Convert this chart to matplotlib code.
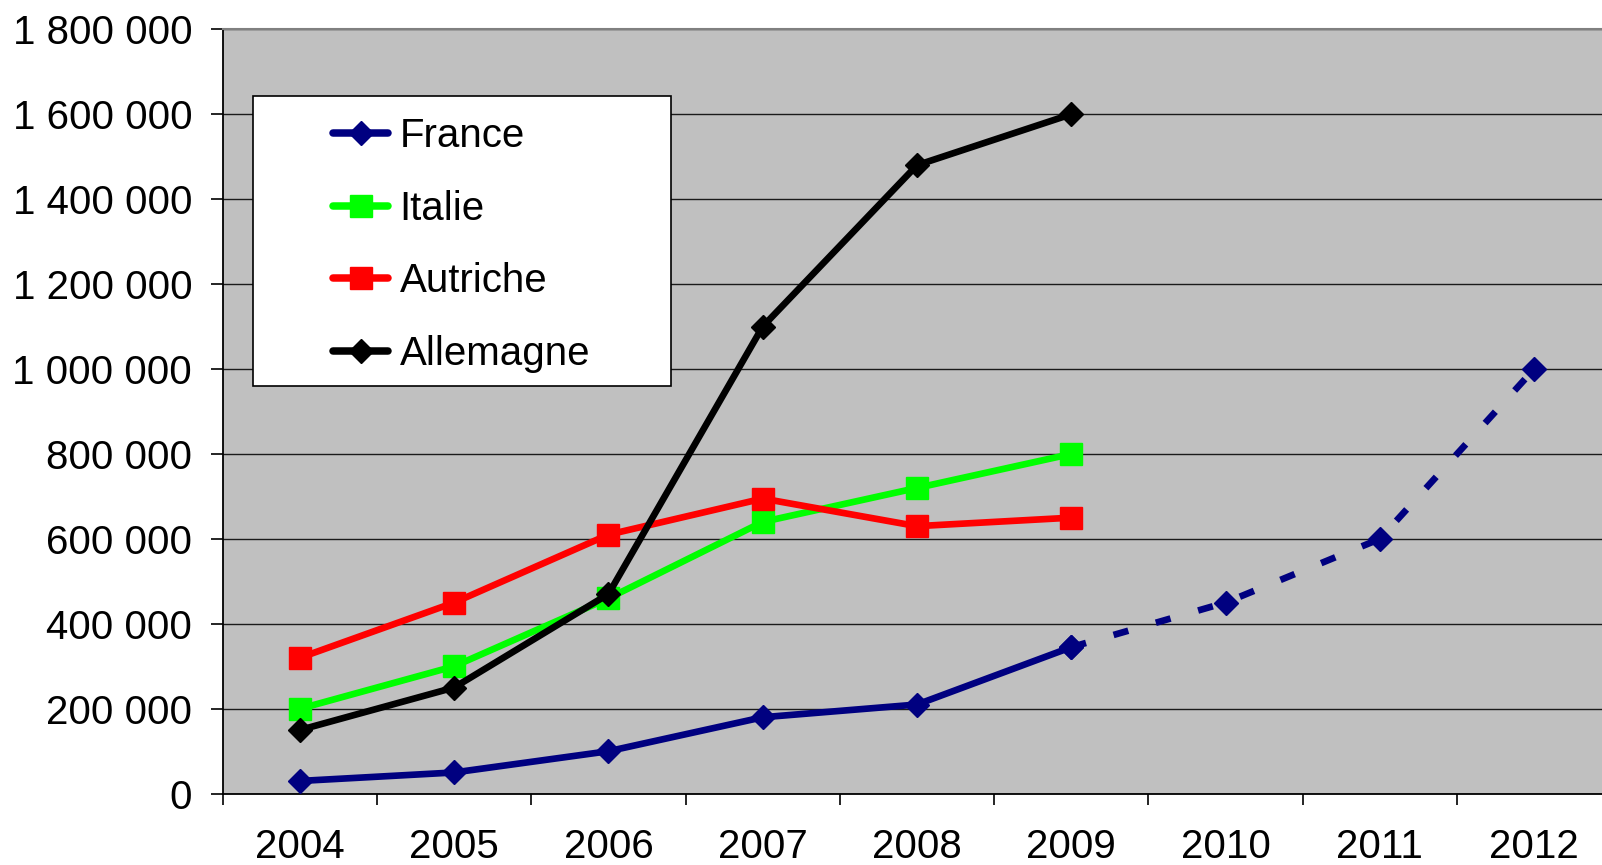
import numpy as np
import matplotlib
matplotlib.use("Agg")
import matplotlib.pyplot as plt
from matplotlib.lines import Line2D
from matplotlib.patches import Rectangle
from matplotlib.ticker import FuncFormatter, FixedLocator

plt.rcParams['font.family'] = ['Liberation Sans', 'DejaVu Sans']

# data
years = ['2004', '2005', '2006', '2007', '2008', '2009', '2010', '2011', '2012']
france = [30000, 50000, 100000, 180000, 210000, 345000, 450000, 600000, 1000000]
france_last_real = 5  # values after 2009 are forecasts (dotted)
italie = [200000, 300000, 460000, 640000, 720000, 800000]
autriche = [320000, 450000, 610000, 695000, 630000, 650000]
allemagne = [150000, 250000, 470000, 1100000, 1480000, 1600000]

names = ['France', 'Italie', 'Autriche', 'Allemagne']
colors = ['#000080', '#00FF00', '#FF0000', '#000000']
markers = ['D', 's', 's', 'D']

W, H = 1602, 865
fig = plt.figure(figsize=(W / 100, H / 100), dpi=100)
ax = fig.add_axes([222.7 / W, 1 - 793.7 / H, (1611.3 - 222.7) / W, (793.7 - 29.3) / H])
ax.set_facecolor('#C0C0C0')

x = np.arange(len(years))
lw = 4.8
msize = {'D': 12.5, 's': 16.5}

# France: solid for real years, dashed for forecasts
n = france_last_real
ax.plot(x[:n + 1], france[:n + 1], color=colors[0], lw=lw, marker='D',
        ms=msize['D'], zorder=3)
ax.plot(x[n:], france[n:], color=colors[0], lw=lw, marker='D',
        ms=msize['D'], dashes=(2.3, 4.3), dash_capstyle='butt', zorder=3)

for vals, c, m, z in zip([italie, autriche, allemagne], colors[1:], markers[1:], [4, 5, 6]):
    ax.plot(x[:len(vals)], vals, color=c, lw=lw, marker=m, ms=msize[m], zorder=z)

ax.set_xlim(-0.5, len(years) - 0.5)
ax.set_ylim(0, 1800000)
ax.set_yticks(np.arange(0, 1800001, 200000))
ax.yaxis.set_major_formatter(FuncFormatter(lambda v, p: f"{v:,.0f}".replace(",", " ")))
ax.grid(axis='y', color='#1a1a1a', lw=1.0)
ax.set_axisbelow(True)

ax.set_xticks(x)
ax.set_xticklabels(years)
ax.xaxis.set_minor_locator(FixedLocator(np.arange(-0.5, len(years), 1.0)))
ax.tick_params(axis='x', which='major', length=0, pad=24.5, labelsize=29)
ax.tick_params(axis='x', which='minor', length=8, width=1.2, color='black')
ax.tick_params(axis='y', length=9, width=1.2, pad=13, labelsize=29, color='black')

for s in ['left', 'bottom']:
    ax.spines[s].set_color('black')
    ax.spines[s].set_linewidth(1.3)
ax.spines['top'].set_color('#808080')
ax.spines['top'].set_linewidth(1.5)
ax.spines['right'].set_visible(False)

# legend box
x0, y0, x1, y1 = 253.3, 95.7, 671.3, 386.2
fig.add_artist(Rectangle((x0 / W, 1 - y1 / H), (x1 - x0) / W, (y1 - y0) / H,
                         transform=fig.transFigure, facecolor='white',
                         edgecolor='black', lw=1.2, zorder=10))
handles = [Line2D([], [], color=c, marker=m, ms=msize[m], lw=5.4,
                  solid_capstyle='round') for c, m in zip(colors, markers)]
leg = fig.legend(handles, names, loc='upper left',
                 bbox_to_anchor=(332.75 / W, 1 - 117 / H), bbox_transform=fig.transFigure,
                 frameon=False, fontsize=29, borderpad=0, borderaxespad=0,
                 handlelength=1.38, handletextpad=0.28, labelspacing=0.86)
leg.set_zorder(11)

fig.savefig('out.png', dpi=100)
